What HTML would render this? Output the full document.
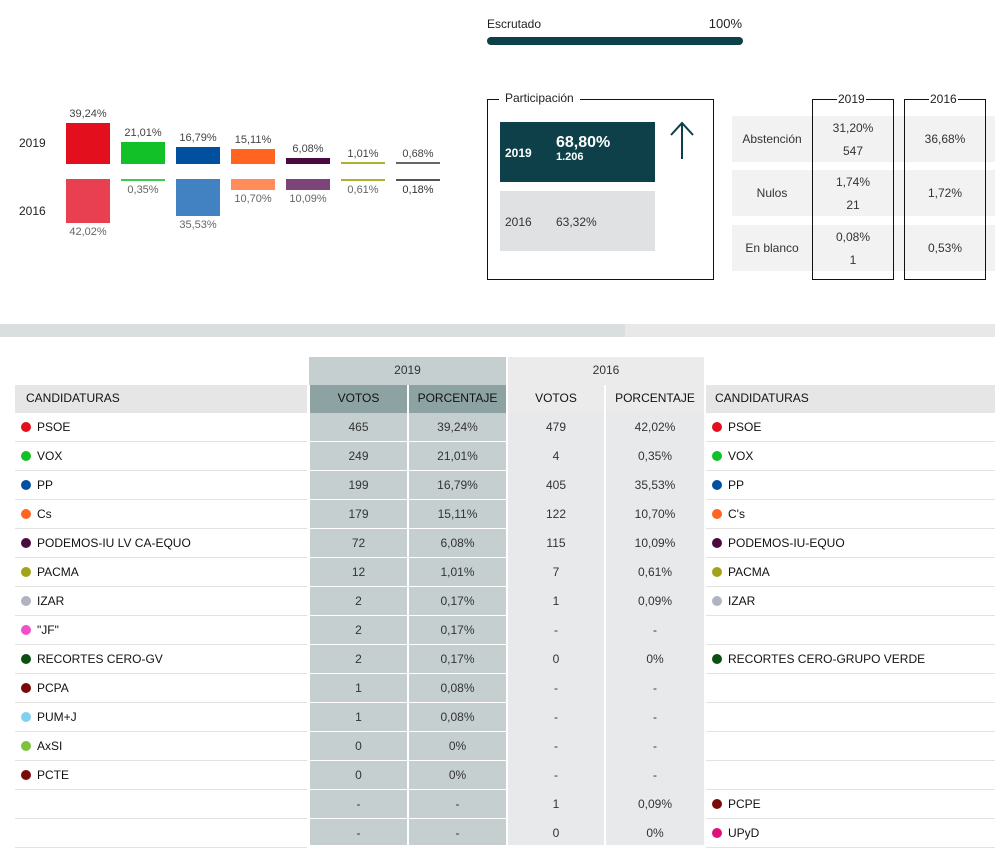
<!DOCTYPE html>
<html><head><meta charset="utf-8"><style>
body{margin:0;width:995px;height:845px;overflow:hidden;background:#fff;font-family:"Liberation Sans",sans-serif;color:#222;position:relative}
.a{position:absolute}
.t{position:absolute;font-size:11px;color:#444;text-align:center;white-space:nowrap}
.c{position:absolute;font-size:12px;text-align:center;color:#333;line-height:29px}
.n{position:absolute;font-size:12px;color:#111;line-height:29px;white-space:nowrap}
.d{display:inline-block;width:10px;height:10px;border-radius:50%;margin-right:6px;vertical-align:-1px}
</style></head><body>
<!-- bar chart -->
<div class="a" style="left:19px;top:136px;font-size:12px">2019</div>
<div class="a" style="left:19px;top:204px;font-size:12px">2016</div>
<div class="a" style="left:66px;top:123px;width:44px;height:41px;background:#e30f1d"></div>
<div class="a" style="left:121px;top:142px;width:44px;height:22px;background:#11c127"></div>
<div class="a" style="left:176px;top:147px;width:44px;height:17px;background:#0050a0"></div>
<div class="a" style="left:231px;top:149px;width:44px;height:15px;background:#ff6420"></div>
<div class="a" style="left:286px;top:158px;width:44px;height:6px;background:#4a0a40"></div>
<div class="a" style="left:341px;top:162px;width:44px;height:2px;background:#b0b030"></div>
<div class="a" style="left:396px;top:162px;width:44px;height:2px;background:#666"></div>
<div class="t" style="left:66px;top:108px;width:44px">39,24%</div>
<div class="t" style="left:121px;top:127px;width:44px">21,01%</div>
<div class="t" style="left:176px;top:132px;width:44px">16,79%</div>
<div class="t" style="left:231px;top:134px;width:44px">15,11%</div>
<div class="t" style="left:286px;top:143px;width:44px">6,08%</div>
<div class="t" style="left:341px;top:148px;width:44px">1,01%</div>
<div class="t" style="left:396px;top:148px;width:44px">0,68%</div>
<div class="a" style="left:66px;top:179px;width:44px;height:44px;background:#e84050"></div>
<div class="a" style="left:121px;top:179px;width:44px;height:2px;background:#40c850"></div>
<div class="a" style="left:176px;top:179px;width:44px;height:37px;background:#4282c2"></div>
<div class="a" style="left:231px;top:179px;width:44px;height:11px;background:#ff8c5a"></div>
<div class="a" style="left:286px;top:179px;width:44px;height:11px;background:#7c4478"></div>
<div class="a" style="left:341px;top:179px;width:44px;height:2px;background:#b0b030"></div>
<div class="a" style="left:396px;top:179px;width:44px;height:2px;background:#555"></div>
<div class="t" style="left:66px;top:226px;width:44px;color:#666">42,02%</div>
<div class="t" style="left:121px;top:184px;width:44px;color:#666">0,35%</div>
<div class="t" style="left:176px;top:219px;width:44px;color:#666">35,53%</div>
<div class="t" style="left:231px;top:193px;width:44px;color:#666">10,70%</div>
<div class="t" style="left:286px;top:193px;width:44px;color:#666">10,09%</div>
<div class="t" style="left:341px;top:184px;width:44px;color:#666">0,61%</div>
<div class="t" style="left:396px;top:184px;width:44px;color:#333">0,18%</div>
<!-- escrutado -->
<div class="a" style="left:487px;top:17px;font-size:12px">Escrutado</div>
<div class="a" style="left:680px;top:16px;width:62px;text-align:right;font-size:13px">100%</div>
<div class="a" style="left:487px;top:37px;width:256px;height:8px;border-radius:4px;background:#0d4048"></div>
<!-- participacion -->
<div class="a" style="left:487px;top:99px;width:225px;height:179px;border:1px solid #111"></div>
<div class="a" style="left:499px;top:91px;padding:0 6px;background:#fff;font-size:12px">Participación</div>
<div class="a" style="left:500px;top:122px;width:155px;height:60px;background:#0d4048;color:#fff"></div>
<div class="a" style="left:505px;top:146px;font-size:12px;color:#fff;font-weight:bold">2019</div>
<div class="a" style="left:556px;top:134px;font-size:16px;color:#fff;font-weight:bold">68,80%</div>
<div class="a" style="left:556px;top:151px;font-size:11px;color:#fff;font-weight:bold">1.206</div>
<div class="a" style="left:500px;top:191px;width:155px;height:60px;background:#dfe1e2"></div>
<div class="a" style="left:505px;top:215px;font-size:12px;color:#333">2016</div>
<div class="a" style="left:556px;top:215px;font-size:12px;color:#333">63,32%</div>
<svg class="a" style="left:668px;top:120px" width="30" height="42"><path d="M14 39V3M3 15L14 3L25 15" stroke="#0d4048" stroke-width="2" fill="none"/></svg>
<!-- abstention table -->
<div class="a" style="left:732px;top:116px;width:263px;height:46px;background:#f2f2f2"></div>
<div class="a" style="left:732px;top:170px;width:263px;height:46px;background:#f2f2f2"></div>
<div class="a" style="left:732px;top:225px;width:263px;height:46px;background:#f2f2f2"></div>
<div class="a" style="left:812px;top:99px;width:80px;height:179px;border:1px solid #111"></div>
<div class="a" style="left:904px;top:99px;width:80px;height:179px;border:1px solid #111"></div>
<div class="a" style="left:837px;top:92px;padding:0 1px;background:#fff;font-size:12px;line-height:14px">2019</div>
<div class="a" style="left:929px;top:92px;padding:0 1px;background:#fff;font-size:12px;line-height:14px">2016</div>
<div class="t" style="left:732px;top:132px;width:80px;font-size:12px;color:#333">Abstención</div>
<div class="t" style="left:732px;top:186px;width:80px;font-size:12px;color:#333">Nulos</div>
<div class="t" style="left:732px;top:241px;width:80px;font-size:12px;color:#333">En blanco</div>
<div class="t" style="left:812px;top:121px;width:82px;font-size:12px;color:#333">31,20%</div>
<div class="t" style="left:812px;top:144px;width:82px;font-size:12px;color:#333">547</div>
<div class="t" style="left:812px;top:175px;width:82px;font-size:12px;color:#333">1,74%</div>
<div class="t" style="left:812px;top:198px;width:82px;font-size:12px;color:#333">21</div>
<div class="t" style="left:812px;top:230px;width:82px;font-size:12px;color:#333">0,08%</div>
<div class="t" style="left:812px;top:253px;width:82px;font-size:12px;color:#333">1</div>
<div class="t" style="left:904px;top:132px;width:82px;font-size:12px;color:#333">36,68%</div>
<div class="t" style="left:904px;top:186px;width:82px;font-size:12px;color:#333">1,72%</div>
<div class="t" style="left:904px;top:241px;width:82px;font-size:12px;color:#333">0,53%</div>
<!-- band -->
<div class="a" style="left:0;top:324px;width:995px;height:13px;background:#e8e8e8"></div>
<div class="a" style="left:0;top:324px;width:625px;height:13px;background:#d9dfdf"></div>
<!-- main table headers -->
<div class="a" style="left:309px;top:357px;width:197px;height:28px;background:#c5cfcf"></div>
<div class="c" style="left:309px;top:356px;width:197px">2019</div>
<div class="a" style="left:508px;top:357px;width:196px;height:28px;background:#ebebeb"></div>
<div class="c" style="left:508px;top:356px;width:196px">2016</div>
<div class="a" style="left:15px;top:385px;width:292px;height:28px;background:#e6e6e6"></div>
<div class="n" style="left:26px;top:384px">CANDIDATURAS</div>
<div class="a" style="left:310px;top:385px;width:97px;height:28px;background:#8da3a3"></div>
<div class="a" style="left:409px;top:385px;width:97px;height:28px;background:#8da3a3"></div>
<div class="c" style="left:310px;top:384px;width:97px;color:#111">VOTOS</div>
<div class="c" style="left:409px;top:384px;width:97px;color:#111">PORCENTAJE</div>
<div class="a" style="left:508px;top:385px;width:96px;height:28px;background:#ebebeb"></div>
<div class="a" style="left:606px;top:385px;width:98px;height:28px;background:#ebebeb"></div>
<div class="c" style="left:508px;top:384px;width:96px;color:#111">VOTOS</div>
<div class="c" style="left:606px;top:384px;width:98px;color:#111">PORCENTAJE</div>
<div class="a" style="left:706px;top:385px;width:289px;height:28px;background:#e6e6e6"></div>
<div class="n" style="left:715px;top:384px">CANDIDATURAS</div>
<!-- body backgrounds -->
<div class="a" style="left:310px;top:413px;width:196px;height:432px;background:#c5cfcf"></div>
<div class="a" style="left:407px;top:413px;width:2px;height:432px;background:#fff"></div>
<div class="a" style="left:508px;top:413px;width:196px;height:432px;background:#e8e9ea"></div>
<div class="a" style="left:604px;top:413px;width:2px;height:432px;background:#fff"></div>
<div id="rows"></div>
<script>
var R=[["PSOE","#e30f1d","465","39,24%","479","42,02%","PSOE","#e30f1d"],
["VOX","#11c127","249","21,01%","4","0,35%","VOX","#11c127"],
["PP","#0050a0","199","16,79%","405","35,53%","PP","#0050a0"],
["Cs","#ff6420","179","15,11%","122","10,70%","C's","#ff6420"],
["PODEMOS-IU LV CA-EQUO","#4a0a40","72","6,08%","115","10,09%","PODEMOS-IU-EQUO","#4a0a40"],
["PACMA","#a3a31a","12","1,01%","7","0,61%","PACMA","#a3a31a"],
["IZAR","#b0b4c0","2","0,17%","1","0,09%","IZAR","#b0b4c0"],
["\"JF\"","#f050c8","2","0,17%","-","-","",""],
["RECORTES CERO-GV","#0a5010","2","0,17%","0","0%","RECORTES CERO-GRUPO VERDE","#0a5010"],
["PCPA","#7a0a0a","1","0,08%","-","-","",""],
["PUM+J","#80d0f0","1","0,08%","-","-","",""],
["AxSI","#80c040","0","0%","-","-","",""],
["PCTE","#7a0a0a","0","0%","-","-","",""],
["","","-","-","1","0,09%","PCPE","#7a0a0a"],
["","","-","-","0","0%","UPyD","#e0107a"]];
var h="";
R.forEach(function(r,i){var y=413+i*29;
h+='<div class="a" style="left:15px;top:'+(y+28)+'px;width:292px;height:1px;background:#e2e2e2"></div>';
h+='<div class="a" style="left:310px;top:'+(y+28)+'px;width:196px;height:1px;background:#fff"></div>';
h+='<div class="a" style="left:706px;top:'+(y+28)+'px;width:289px;height:1px;background:#e2e2e2"></div>';
if(r[0])h+='<div class="n" style="left:21px;top:'+y+'px"><span class="d" style="background:'+r[1]+'"></span>'+r[0]+'</div>';
h+='<div class="c" style="left:310px;top:'+y+'px;width:97px">'+r[2]+'</div>';
h+='<div class="c" style="left:409px;top:'+y+'px;width:97px">'+r[3]+'</div>';
h+='<div class="c" style="left:508px;top:'+y+'px;width:96px">'+r[4]+'</div>';
h+='<div class="c" style="left:606px;top:'+y+'px;width:98px">'+r[5]+'</div>';
if(r[6])h+='<div class="n" style="left:712px;top:'+y+'px"><span class="d" style="background:'+r[7]+'"></span>'+r[6]+'</div>';
});
document.getElementById("rows").innerHTML=h;
</script>
</body></html>
